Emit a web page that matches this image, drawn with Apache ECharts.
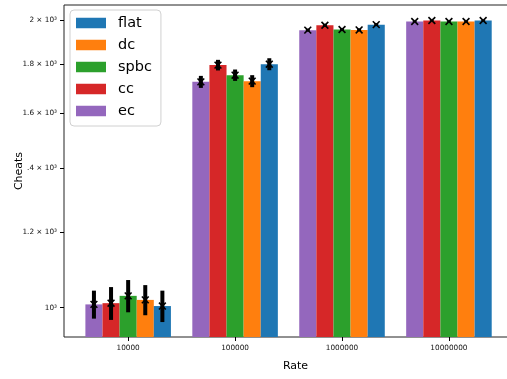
<!DOCTYPE html>
<html>
<head>
<meta charset="utf-8">
<script src="https://cdn.jsdelivr.net/npm/echarts@6/dist/echarts.min.js"></script>
<style>
  html, body { margin: 0; padding: 0; background: #fff; }
  #chart { width: 507px; height: 379px; }
</style>
</head>
<body>
<div id="chart"></div>
<script>
// Rates on the x axis
const categories = ['10000', '100000', '1000000', '10000000'];

// Mean cheats per scheme, one value per rate
const flat = [1004, 1799, 1979, 1999];
const dc   = [1019, 1727, 1954, 1994];
const spbc = [1029, 1752, 1956, 1994];
const cc   = [1011, 1795, 1976, 1999];
const ec   = [1008, 1724, 1953, 1994];

// Error half-widths per scheme
const flatErr = [38, 26, 7, 2];
const dcErr   = [37, 25, 7, 2];
const spbcErr = [40, 24, 7, 2];
const ccErr   = [40, 23, 7, 2];
const ecErr   = [34, 25, 7, 2];

// Log-axis ticks and their printed labels
const yTicks = [1000, 1200, 1400, 1600, 1800, 2000];
const yTickLabels = ['10³', '1.2 × 10³', '.4 × 10³', '1.6 × 10³', '1.8 × 10³', '2 × 10³'];

const legendOrder = ['flat', 'dc', 'spbc', 'cc', 'ec'];

// Schemes drawn left to right inside each rate group
const groups = [
  { name: 'ec',   values: ec,   err: ecErr,   color: '#9467bd' },
  { name: 'cc',   values: cc,   err: ccErr,   color: '#d62728' },
  { name: 'spbc', values: spbc, err: spbcErr, color: '#2ca02c' },
  { name: 'dc',   values: dc,   err: dcErr,   color: '#ff7f0e' },
  { name: 'flat', values: flat, err: flatErr, color: '#1f77b4' }
];

const BAR_W = 0.16;          // bar width in x units
const X_MIN = -0.6, X_MAX = 3.73;
const Y_MIN = 931.8, Y_MAX = 2075;
const FONT = 'DejaVu Sans';

const chart = echarts.init(document.getElementById('chart'));

const barSeries = groups.map((g, k) => ({
  name: g.name,
  type: 'bar',
  xAxisIndex: 0,
  yAxisIndex: 0,
  barWidth: 17.1,
  barGap: '-100%',
  clip: true,
  itemStyle: { color: g.color },
  emphasis: { disabled: true },
  data: g.values.map((v, i) => [i + (k - 2) * BAR_W, v])
}));

const errSeries = groups.map((g, k) => ({
  name: g.name + '-err',
  type: 'custom',
  xAxisIndex: 0,
  yAxisIndex: 0,
  z: 5,
  silent: true,
  encode: { x: 0, y: 1 },
  data: g.values.map((v, i) => [i + (k - 2) * BAR_W, v, g.err[i]]),
  renderItem: function (params, api) {
    const x = api.value(0), y = api.value(1), e = api.value(2);
    const hi = api.coord([x, y + e]);
    const lo = api.coord([x, y - e]);
    const c = api.coord([x, y]);
    const s = 3.4;
    const st = { stroke: '#000', lineWidth: 1.6 };
    return {
      type: 'group',
      children: [
        { type: 'line', shape: { x1: hi[0], y1: hi[1], x2: lo[0], y2: lo[1] },
          style: { stroke: '#000', lineWidth: 4 } },
        { type: 'line', shape: { x1: c[0] - s, y1: c[1] - s, x2: c[0] + s, y2: c[1] + s }, style: st },
        { type: 'line', shape: { x1: c[0] - s, y1: c[1] + s, x2: c[0] + s, y2: c[1] - s }, style: st }
      ]
    };
  }
}));

function yLabel(v) {
  for (let i = 0; i < yTicks.length; i++) {
    if (Math.abs(Math.log10(yTicks[i]) - v) < 1e-6) return yTickLabels[i];
  }
  return '';
}

chart.setOption({
  animation: false,
  textStyle: { fontFamily: FONT },
  grid: {
    left: 64, right: 507 - 527, top: 5, bottom: 42,
    containLabel: false, outerBoundsMode: 'none',
    show: true, borderColor: '#222', borderWidth: 1, backgroundColor: 'transparent'
  },
  legend: {
    data: legendOrder,
    orient: 'vertical',
    left: 70, top: 10,
    icon: 'rect',
    itemWidth: 30, itemHeight: 10.5,
    itemGap: 6,
    padding: [5, 9, 7, 6],
    backgroundColor: '#fff',
    borderColor: '#d0d0d0', borderWidth: 1, borderRadius: 4,
    selectedMode: false,
    textStyle: { fontFamily: FONT, fontSize: 14.5, color: '#000', lineHeight: 16, padding: [0, 0, 0, 7] }
  },
  xAxis: [{
    type: 'value',
    min: X_MIN, max: X_MAX,
    name: 'Rate', nameLocation: 'middle', nameGap: 24, nameMoveOverlap: false,
    nameTextStyle: { fontFamily: FONT, fontSize: 11, color: '#000' },
    axisLine: { show: false },
    splitLine: { show: false },
    axisTick: { show: true, length: 4, customValues: [0, 1, 2, 3], lineStyle: { color: '#000', width: 1 } },
    axisLabel: {
      customValues: [0, 1, 2, 3], margin: 8,
      fontFamily: FONT, fontSize: 7.3, color: '#111',
      formatter: v => categories[Math.round(v)]
    }
  }],
  yAxis: [{
    type: 'log', logBase: 10,
    min: Y_MIN, max: Y_MAX, startValue: Y_MIN,
    position: 'left',
    axisLine: { show: false }, axisTick: { show: false },
    axisLabel: { show: false }, splitLine: { show: false }
  }, {
    type: 'value',
    min: Math.log10(Y_MIN), max: Math.log10(Y_MAX),
    position: 'left',
    name: 'Cheats', nameLocation: 'middle', nameGap: 39, nameRotate: 90, nameMoveOverlap: false,
    nameTextStyle: { fontFamily: FONT, fontSize: 11, color: '#000' },
    axisLine: { show: false },
    splitLine: { show: false },
    axisTick: { show: true, length: 4, customValues: yTicks.map(t => Math.log10(t)), lineStyle: { color: '#000', width: 1 } },
    axisLabel: {
      customValues: yTicks.map(t => Math.log10(t)), margin: 7,
      fontFamily: FONT, fontSize: 7.3, color: '#111',
      formatter: yLabel
    }
  }],
  series: barSeries.concat(errSeries)
});
</script>
</body>
</html>
